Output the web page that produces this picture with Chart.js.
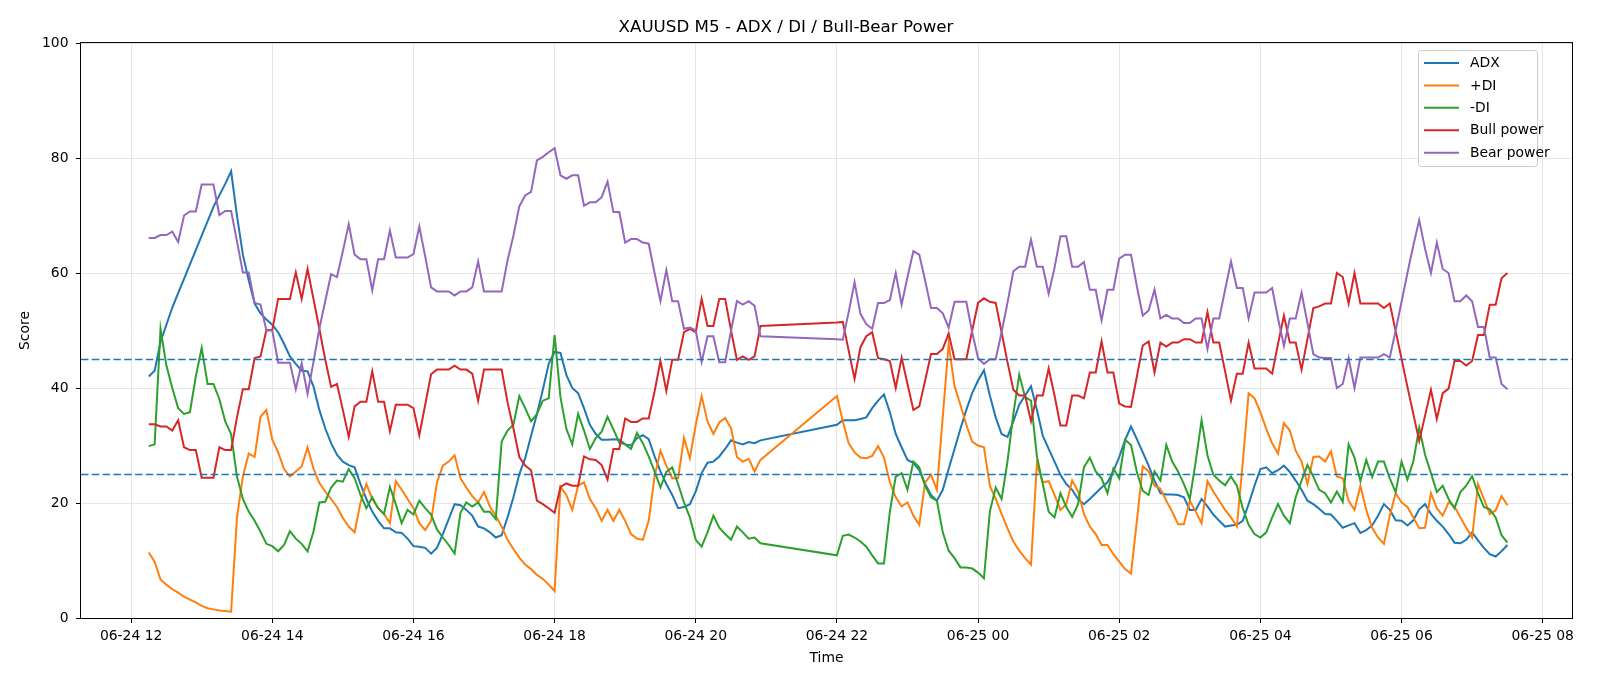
<!DOCTYPE html>
<html>
<head>
<meta charset="utf-8">
<script src="https://cdn.jsdelivr.net/npm/chart.js@4.4.1/dist/chart.umd.min.js"></script>
<style>
  html, body { margin: 0; padding: 0; background: #fff; }
  #wrap { width: 1600px; height: 686px; }
</style>
</head>
<body>
<div id="wrap"><canvas id="chart" width="1600" height="686"></canvas></div>
<script>
// ─── Time grid (hours since 06-24 00:00, M5 bars) ─────
const seg1Start = 12.25   // 06-24 12:15 .. 20:55
const seg1Len   = 105
const seg2Start = 22      // 06-24 22:00 .. 06-25 07:30
const seg2Len   = 115
const barHours  = 5 / 60

const times = []
for (let i = 0; i < seg1Len; i++) times.push(seg1Start + i * barHours)
for (let j = 0; j < seg2Len; j++) times.push(seg2Start + j * barHours)

const tickHours  = [12, 14, 16, 18, 20, 22, 24, 26, 28, 30, 32]
const tickLabels = ['06-24 12', '06-24 14', '06-24 16', '06-24 18', '06-24 20', '06-24 22',
                    '06-25 00', '06-25 02', '06-25 04', '06-25 06', '06-25 08']
const thresholds = [45, 25]

// ─── Series ───────────────────────────────────────────
const adx = [
  42, 43, 48, 51, 54, 56.5, 59, 61.5, 64, 66.5,
  69, 71.5, 73.5, 75.5, 77.7, 70, 63.2, 58.7, 54.7, 53,
  51.9, 51, 49.7, 47.7, 45.5, 44.2, 43, 42.9, 40.3, 36.2,
  33, 30.4, 28.4, 27.2, 26.6, 26.2, 23.3, 20.7, 18.5, 16.9,
  15.6, 15.6, 14.9, 14.8, 13.8, 12.5, 12.4, 12.2, 11.2, 12.2,
  14.6, 17.2, 19.8, 19.6, 18.8, 17.8, 15.9, 15.6, 14.9, 14,
  14.4, 17.5, 21, 25, 27.8, 31.7, 35.5, 39.7, 44.2, 46.3,
  46.1, 42.3, 40, 39.1, 36.5, 33.6, 32, 31, 31, 31.1,
  31, 30.2, 30, 31.3, 31.8, 31.1, 28.1, 25.5, 23.3, 21.4,
  19.1, 19.3, 19.8, 22, 25.2, 27, 27.2, 28.1, 29.4, 30.9,
  30.5, 30.2, 30.6, 30.4, 30.9,
  33.6, 34.4, 34.4, 34.4, 34.6, 34.9, 36.5, 37.8, 38.9, 35.8,
  32, 29.7, 27.5, 27, 25.7, 23.3, 21.4, 20.4, 22.3, 25.9,
  29.4, 32.9, 36.2, 39.1, 41.3, 43.1, 38.7, 34.9, 32, 31.5,
  34.2, 37.1, 38.7, 40.3, 36.2, 31.7, 29.4, 27.2, 24.9, 23.3,
  22.3, 20.7, 19.8, 20.7, 21.7, 22.7, 23.6, 25.5, 28, 31,
  33.3, 31.1, 28.8, 26.5, 23.9, 21.7, 21.5, 21.5, 21.4, 21,
  18.8, 18.8, 20.7, 19.4, 18, 16.9, 15.9, 16.1, 16.2, 16.9,
  19.8, 23, 25.9, 26.2, 25.2, 25.7, 26.5, 25.4, 23.9, 22.3,
  20.4, 19.8, 19, 18.1, 18, 16.9, 15.7, 16.1, 16.5, 14.8,
  15.3, 16.1, 17.8, 19.8, 18.8, 17, 16.9, 16.1, 17, 18.9,
  19.8, 18.1, 16.9, 15.9, 14.6, 13.1, 13, 13.6, 14.9, 13.5,
  12.2, 11.1, 10.7, 11.6, 12.7
]

const plusDI = [
  11.4, 9.8, 6.7, 5.8, 5, 4.4, 3.7, 3.2, 2.7, 2.1,
  1.7, 1.5, 1.3, 1.2, 1.1, 17.5, 24.6, 28.6, 28, 35,
  36.2, 31, 28.8, 25.9, 24.6, 25.5, 26.4, 29.7, 26, 23.5,
  22, 20.7, 19.3, 17.4, 15.9, 14.9, 20.1, 23.3, 20.7, 19.1,
  18.1, 16.5, 23.8, 22.3, 20.7, 19.1, 16.5, 15.3, 16.9, 23.6,
  26.5, 27.2, 28.3, 24.3, 22.7, 21.2, 20.1, 21.9, 19.4, 17.8,
  15.9, 13.6, 12, 10.5, 9.3, 8.5, 7.5, 6.8, 5.8, 4.7,
  22.8, 21.4, 18.8, 23, 23.6, 20.7, 19.1, 16.9, 18.8, 16.9,
  18.8, 16.9, 14.6, 13.8, 13.6, 16.9, 24.6, 29.1, 26.5, 24.3,
  24.3, 31.3, 27.8, 33.6, 38.6, 34.2, 32, 34, 34.8, 33,
  28, 27.2, 27.7, 25.5, 27.5,
  38.6, 34.2, 30.4, 28.8, 27.9, 27.8, 28.2, 29.9, 27.9, 23.6,
  21, 19.4, 20.1, 17.8, 16.2, 23.6, 24.9, 22.3, 35, 47.7,
  40.3, 37.1, 33.6, 30.7, 30, 29.7, 23, 20.7, 18.1, 15.6,
  13.3, 11.7, 10.4, 9.3, 26.8, 23.6, 23.8, 21.4, 18.8, 19.8,
  23.9, 22, 18.1, 15.9, 14.6, 12.7, 12.7, 11.1, 9.8, 8.5,
  7.7, 16.9, 26.4, 25.5, 23, 22.5, 20.4, 18.5, 16.3, 16.3,
  20.4, 18.5, 16.5, 23.8, 22, 20.4, 18.8, 17.5, 15.9, 27,
  39.1, 38.2, 35.8, 32.9, 30.4, 28.6, 33.9, 32.6, 29.1, 27.2,
  23.3, 28, 28.1, 27.2, 29, 24.6, 24.3, 20.4, 18.8, 23,
  18.8, 15.7, 14, 12.9, 17.8, 21.7, 20.1, 19.3, 17.5, 15.6,
  15.7, 21.7, 19.1, 17.8, 20.1, 19.4, 17.5, 15.7, 14, 23.3,
  20.7, 18.1, 18.7, 21.2, 19.6
]

const minusDI = [
  29.9, 30.2, 50.3, 43.9, 40, 36.5, 35.5, 35.8, 42, 47,
  40.7, 40.7, 38.1, 34.2, 32, 24.6, 20.7, 18.5, 16.9, 15,
  12.9, 12.5, 11.6, 12.7, 15.1, 13.8, 12.9, 11.6, 15, 20.1,
  20.2, 22.7, 23.9, 23.7, 25.9, 24.3, 21.4, 19.1, 21, 19.1,
  18.1, 22.8, 19.8, 16.5, 18.8, 18, 20.4, 19.1, 18, 15.4,
  14, 12.7, 11.2, 18.3, 20.1, 19.4, 20.1, 18.5, 18.5, 17.2,
  30.7, 32.6, 33.6, 38.6, 36.5, 34.2, 35.5, 37.8, 38.2, 49.2,
  38.4, 32.9, 30.2, 35.5, 32.6, 29.4, 31.3, 32.4, 35, 32.8,
  30.5, 30.2, 29.4, 32.2, 30.4, 28.1, 25.5, 22.7, 25.4, 26.2,
  23.3, 20.1, 17.5, 13.6, 12.4, 14.9, 17.8, 15.7, 14.6, 13.6,
  15.9, 14.9, 13.8, 14, 13,
  10.9, 14.3, 14.5, 14, 13.3, 12.4, 10.9, 9.5, 9.5, 18.5,
  24.6, 25.2, 22.3, 27.2, 26.2, 23, 21, 20.4, 14.9, 11.7,
  10.4, 8.8, 8.8, 8.6, 7.9, 6.9, 18.5, 22.7, 20.7, 27.2,
  35.5, 42.3, 38.4, 37.8, 28.1, 23.3, 18.5, 17.5, 21.7, 19.3,
  17.6, 19.8, 26.2, 27.9, 25.5, 24.3, 21.7, 26, 24.3, 31,
  30.1, 25.4, 22.1, 21.4, 25.5, 23.9, 30.1, 27.2, 25.5, 23.3,
  20.7, 27.2, 34.4, 28.3, 24.9, 23.9, 23.1, 24.6, 23, 19.1,
  16.2, 14.6, 14, 14.9, 17.5, 19.8, 17.8, 16.5, 21, 23.9,
  26.6, 24.6, 22.3, 21.7, 20.1, 22, 20.2, 30.2, 27.9, 23.8,
  27.5, 24.5, 27.2, 27.2, 24.3, 21.9, 27.2, 24.1, 27.2, 33.1,
  28.4, 25.2, 21.9, 23, 20.7, 19.1, 21.9, 23, 24.7, 21.7,
  19.3, 18.9, 17.5, 14.4, 13.1
]

const bullPower = [
  33.7, 33.7, 33.3, 33.3, 32.6, 34.4, 29.7, 29.2, 29.2, 24.4,
  24.4, 24.4, 29.7, 29.2, 29.2, 34.9, 39.8, 39.8, 45.2, 45.5,
  50.1, 50.1, 55.5, 55.5, 55.5, 60.1, 55.5, 60.7, 55.5, 50.3,
  45, 40.2, 40.7, 36.2, 31.5, 36.8, 37.6, 37.6, 42.9, 37.6,
  37.6, 32.5, 37.1, 37.1, 37.1, 36.5, 31.8, 37.1, 42.4, 43.2,
  43.2, 43.2, 43.9, 43.2, 43.2, 42.5, 37.8, 43.2, 43.2, 43.2,
  43.2, 37.5, 33, 28, 26.5, 25.7, 20.4, 19.8, 19.1, 18.3,
  22.8, 23.4, 23, 23, 28.1, 27.6, 27.5, 26.6, 24.1, 29.4,
  29.4, 34.7, 34.1, 34.1, 34.7, 34.7, 39.4, 44.7, 39.5, 44.9,
  44.9, 49.7, 50.3, 49.7, 55.5, 50.8, 50.8, 55.5, 55.5, 50,
  44.9, 45.5, 44.9, 45.5, 50.8,
  51.4, 51.5, 46.5, 41.6, 47.1, 49, 49.7, 45.2, 45, 44.7,
  40, 45.3, 40.7, 36.2, 36.8, 41.3, 45.9, 45.9, 46.8, 49.5,
  45, 45, 45, 50, 54.8, 55.6, 55, 54.8, 49.7, 44.5,
  39.7, 38.7, 38.7, 34.2, 38.7, 38.7, 43.4, 38.7, 33.5, 33.5,
  38.7, 38.7, 38.2, 42.7, 42.7, 48.1, 42.7, 42.7, 37.3, 36.8,
  36.7, 42, 47.4, 48.1, 42.7, 47.9, 47.2, 47.9, 47.9, 48.5,
  48.5, 47.9, 47.9, 53.2, 47.9, 47.9, 42.9, 37.8, 42.5, 42.5,
  47.9, 43.4, 43.4, 43.4, 42.5, 47.7, 52.6, 47.9, 47.9, 43.2,
  48.5, 53.9, 54.2, 54.7, 54.7, 60, 59.3, 54.7, 60, 54.7,
  54.7, 54.7, 54.7, 53.9, 54.7, 49.9, 45.1, 40.2, 35.5, 30.8,
  35.2, 39.7, 34.6, 39.1, 39.9, 44.7, 44.7, 43.9, 44.7, 49.2,
  49.2, 54.5, 54.5, 59.1, 60
]

const bearPower = [
  66.1, 66.1, 66.6, 66.6, 67.2, 65.4, 70, 70.7, 70.7, 75.4,
  75.4, 75.4, 70.1, 70.8, 70.8, 65.5, 60.1, 60.1, 54.8, 54.5,
  50, 50, 44.4, 44.4, 44.4, 39.8, 44.3, 39, 44.5, 50.3,
  55.1, 59.8, 59.3, 63.8, 68.5, 63.2, 62.4, 62.4, 57, 62.4,
  62.4, 67.4, 62.7, 62.7, 62.7, 63.3, 68.1, 62.9, 57.5, 56.8,
  56.8, 56.8, 56.1, 56.8, 56.8, 57.5, 62, 56.8, 56.8, 56.8,
  56.8, 62.2, 66.5, 71.6, 73.5, 74.1, 79.6, 80.2, 81, 81.7,
  77, 76.4, 77, 77, 71.7, 72.3, 72.3, 73.2, 75.9, 70.6,
  70.6, 65.3, 65.9, 65.9, 65.3, 65.1, 60, 55.1, 60.5, 55.1,
  55.1, 50.3, 50.5, 50, 44.5, 49, 49, 44.5, 44.5, 50,
  55.1, 54.5, 55.1, 54.3, 49,
  48.5, 48.4, 53.2, 58.4, 52.9, 51.1, 50.3, 54.8, 54.8, 55.3,
  60, 54.5, 59.3, 63.8, 63.2, 58.7, 53.9, 53.9, 53, 50.5,
  55, 55, 55, 49.7, 45.2, 44.2, 45, 45, 49.7, 54.8,
  60.3, 61.1, 61.1, 65.8, 61.1, 61.1, 56.4, 60.9, 66.4, 66.4,
  61.1, 61.1, 61.9, 57.1, 57.1, 51.8, 57.1, 57.1, 62.5, 63.2,
  63.2, 57.7, 52.6, 53.5, 57.1, 52.1, 52.7, 52.1, 52.1, 51.3,
  51.3, 52.1, 52.1, 46.8, 52.1, 52.1, 57.1, 62, 57.4, 57.4,
  52.1, 56.6, 56.6, 56.6, 57.4, 52.1, 47.3, 52.1, 52.1, 56.6,
  51.3, 45.9, 45.3, 45.2, 45.2, 40, 40.7, 45.2, 40, 45.3,
  45.3, 45.3, 45.3, 45.9, 45.3, 50, 55, 60, 64.8, 69.2,
  64.2, 60, 65.3, 60.7, 60, 55.1, 55.1, 56.1, 55.1, 50.6,
  50.6, 45.3, 45.3, 40.7, 39.8
]

// ─── Style ────────────────────────────────────────────
const FONT    = 'DejaVu Sans'
const TICK_PX = 13.9

const seriesDefs = [
  { label: 'ADX',        data: adx,       color: '#1f77b4' },
  { label: '+DI',        data: plusDI,    color: '#ff7f0e' },
  { label: '-DI',        data: minusDI,   color: '#2ca02c' },
  { label: 'Bull power', data: bullPower, color: '#d62728' },
  { label: 'Bear power', data: bearPower, color: '#9467bd' }
]

const toPoints = arr => arr.map((y, k) => ({ x: times[k], y }))

// ─── Plugins ──────────────────────────────────────────
const refLines = {
  id: 'refLines',
  afterDatasetsDraw(chart) {
    const { ctx, chartArea: a, scales: { y } } = chart
    ctx.save()
    ctx.beginPath()
    ctx.rect(a.left, a.top, a.right - a.left, a.bottom - a.top)
    ctx.clip()
    ctx.strokeStyle = '#1f77b4'
    ctx.lineWidth = 1.5
    ctx.setLineDash([7.5, 3.3])
    thresholds.forEach(v => {
      const py = Math.round(y.getPixelForValue(v)) + 0.5
      ctx.beginPath()
      ctx.moveTo(a.left, py)
      ctx.lineTo(a.right, py)
      ctx.stroke()
    })
    ctx.restore()
  }
}

const frameAndLegend = {
  id: 'frameAndLegend',
  afterDraw(chart) {
    const { ctx, chartArea: a } = chart
    ctx.save()
    ctx.strokeStyle = '#000'
    ctx.lineWidth = 1
    ctx.strokeRect(a.left - 0.5, a.top - 0.5, a.right - a.left + 1, a.bottom - a.top + 1)

    // legend box, upper right
    const bw = 119, bh = 116
    const bx = a.right - 35 - bw + 0.5
    const by = a.top + 7.5
    const r = 3
    ctx.beginPath()
    ctx.moveTo(bx + r, by)
    ctx.arcTo(bx + bw, by, bx + bw, by + bh, r)
    ctx.arcTo(bx + bw, by + bh, bx, by + bh, r)
    ctx.arcTo(bx, by + bh, bx, by, r)
    ctx.arcTo(bx, by, bx + bw, by, r)
    ctx.closePath()
    ctx.fillStyle = 'rgba(255,255,255,0.8)'
    ctx.fill()
    ctx.strokeStyle = '#cccccc'
    ctx.stroke()

    ctx.font = `${TICK_PX}px "${FONT}"`
    ctx.textBaseline = 'middle'
    ctx.textAlign = 'left'
    seriesDefs.forEach((s, k) => {
      const ry = by + 12.5 + k * 22.4
      ctx.strokeStyle = s.color
      ctx.lineWidth = 2
      ctx.beginPath()
      ctx.moveTo(bx + 5.5, ry)
      ctx.lineTo(bx + 40.5, ry)
      ctx.stroke()
      ctx.fillStyle = '#000'
      ctx.fillText(s.label, bx + 51.5, ry + 0.5)
    })
    ctx.restore()
  }
}

// ─── Chart ────────────────────────────────────────────
const ctx = document.getElementById('chart').getContext('2d')

new Chart(ctx, {
  type: 'line',
  data: {
    datasets: seriesDefs.map((s, k) => ({
      label: s.label,
      data: toPoints(s.data),
      borderColor: s.color,
      backgroundColor: s.color,
      borderWidth: 2,
      pointRadius: 0,
      tension: 0,
      fill: false,
      order: seriesDefs.length - k
    }))
  },
  options: {
    responsive: false,
    animation: false,
    devicePixelRatio: 1,
    layout: { padding: { left: 0, right: 28, top: 0, bottom: 0 } },
    scales: {
      x: {
        type: 'linear',
        min: 11.29,
        max: 32.415,
        afterBuildTicks: axis => { axis.ticks = tickHours.map(v => ({ value: v })) },
        afterFit: axis => { axis.height = 68 },
        ticks: {
          color: '#000',
          font: { family: FONT, size: TICK_PX },
          padding: 5,
          maxRotation: 0,
          autoSkip: false,
          callback: v => tickLabels[tickHours.indexOf(v)]
        },
        grid: { color: '#e6e6e6', lineWidth: 1, tickColor: '#000', tickLength: 5, tickWidth: 1 },
        border: { display: false },
        title: {
          display: true,
          text: 'Time',
          color: '#000',
          font: { family: FONT, size: TICK_PX },
          padding: { top: 0, bottom: 19 }
        }
      },
      y: {
        min: 0,
        max: 100,
        afterFit: axis => { axis.width = 81 },
        ticks: {
          stepSize: 20,
          color: '#000',
          font: { family: FONT, size: TICK_PX },
          padding: 7.5
        },
        grid: { color: '#e6e6e6', lineWidth: 1, tickColor: '#000', tickLength: 5, tickWidth: 1 },
        border: { display: false },
        title: {
          display: true,
          text: 'Score',
          color: '#000',
          font: { family: FONT, size: TICK_PX },
          padding: { top: 17, bottom: 0 }
        }
      }
    },
    plugins: {
      legend: { display: false },
      tooltip: { enabled: false },
      title: {
        display: true,
        text: 'XAUUSD M5 - ADX / DI / Bull-Bear Power',
        color: '#000',
        font: { family: FONT, size: 16.7, weight: 'normal' },
        padding: { top: 18, bottom: 5 }
      }
    }
  },
  plugins: [refLines, frameAndLegend]
})
</script>
</body>
</html>
